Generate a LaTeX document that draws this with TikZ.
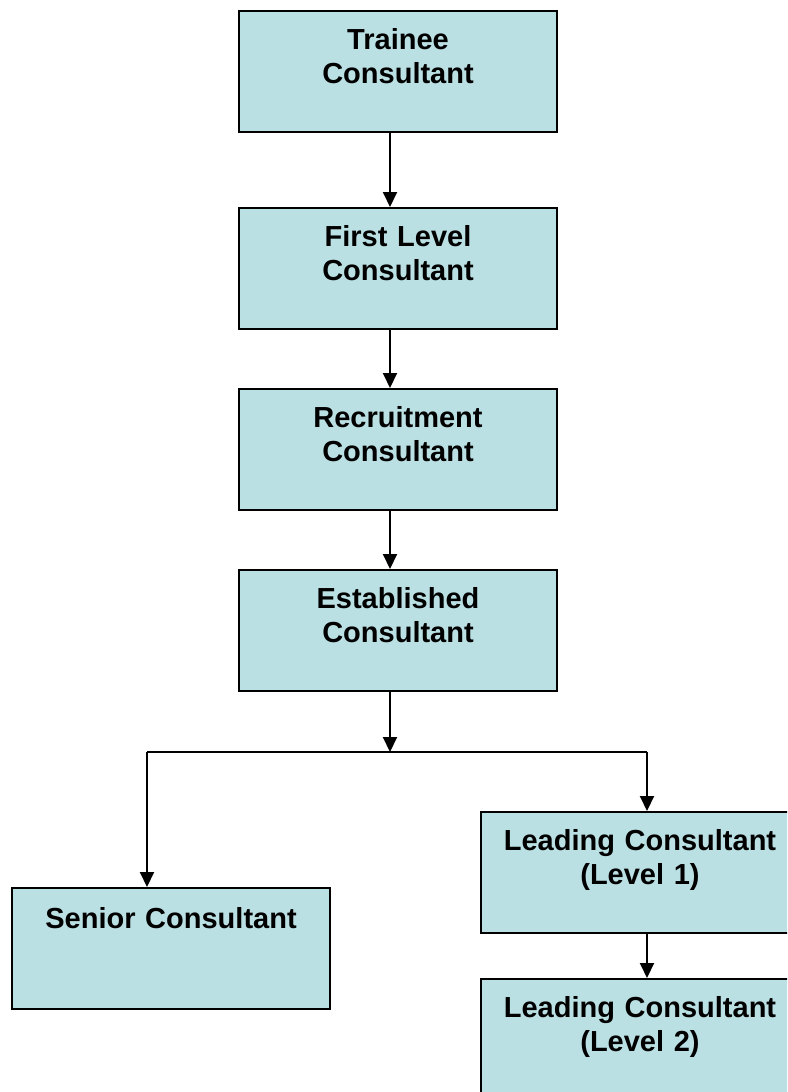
\documentclass[tikz,border=0pt]{standalone}
\usepackage{fontspec}
\setmainfont{Liberation Sans}
\usetikzlibrary{arrows.meta}
\definecolor{boxcol}{RGB}{186,224,227}
\begin{document}
\begin{tikzpicture}[x=1pt,y=-1pt,
  stagebox/.style={draw=black, line width=2pt, fill=boxcol, anchor=north west,
    inner sep=0pt, text width=318pt, align=center,
    text height=38pt, text depth=83pt,
    font=\fontsize{29}{34}\selectfont\bfseries},
  arr/.style={line width=2pt, -{Triangle[length=15pt,width=14pt]}},
  joinline/.style={line width=1.4pt}]
\useasboundingbox (0,0) rectangle (787,1092);
\clip (0,0) rectangle (787,1092);
\node[stagebox] (b1) at (238,10) {Trainee\\Consultant};
\node[stagebox] (b2) at (238,207) {First Level\\Consultant};
\node[stagebox] (b3) at (238,388) {Recruitment\\Consultant};
\node[stagebox] (b4) at (238,569) {Established\\Consultant};
\node[stagebox, text height=40pt, text depth=81pt] (sen) at (11,887) {Senior Consultant};
\node[stagebox] (l1) at (480,811) {Leading Consultant\\(Level 1)};
\node[stagebox] (l2) at (480,978) {Leading Consultant\\(Level 2)};
\coordinate (spine) at (390,0);
\coordinate (j) at (390,752);
\coordinate (jl) at (147,752);
\coordinate (jr) at (647,752);
\draw[arr] (b1.south -| spine) -- (b2.north -| spine);
\draw[arr] (b2.south -| spine) -- (b3.north -| spine);
\draw[arr] (b3.south -| spine) -- (b4.north -| spine);
\draw[arr] (b4.south -| spine) -- (j);
\draw[joinline] (jl) -- (jr);
\draw[arr] (jl) -- (sen.north -| jl);
\draw[arr] (jr) -- (l1.north -| jr);
\draw[arr] (l1.south -| jr) -- (l2.north -| jr);
\end{tikzpicture}
\end{document}
